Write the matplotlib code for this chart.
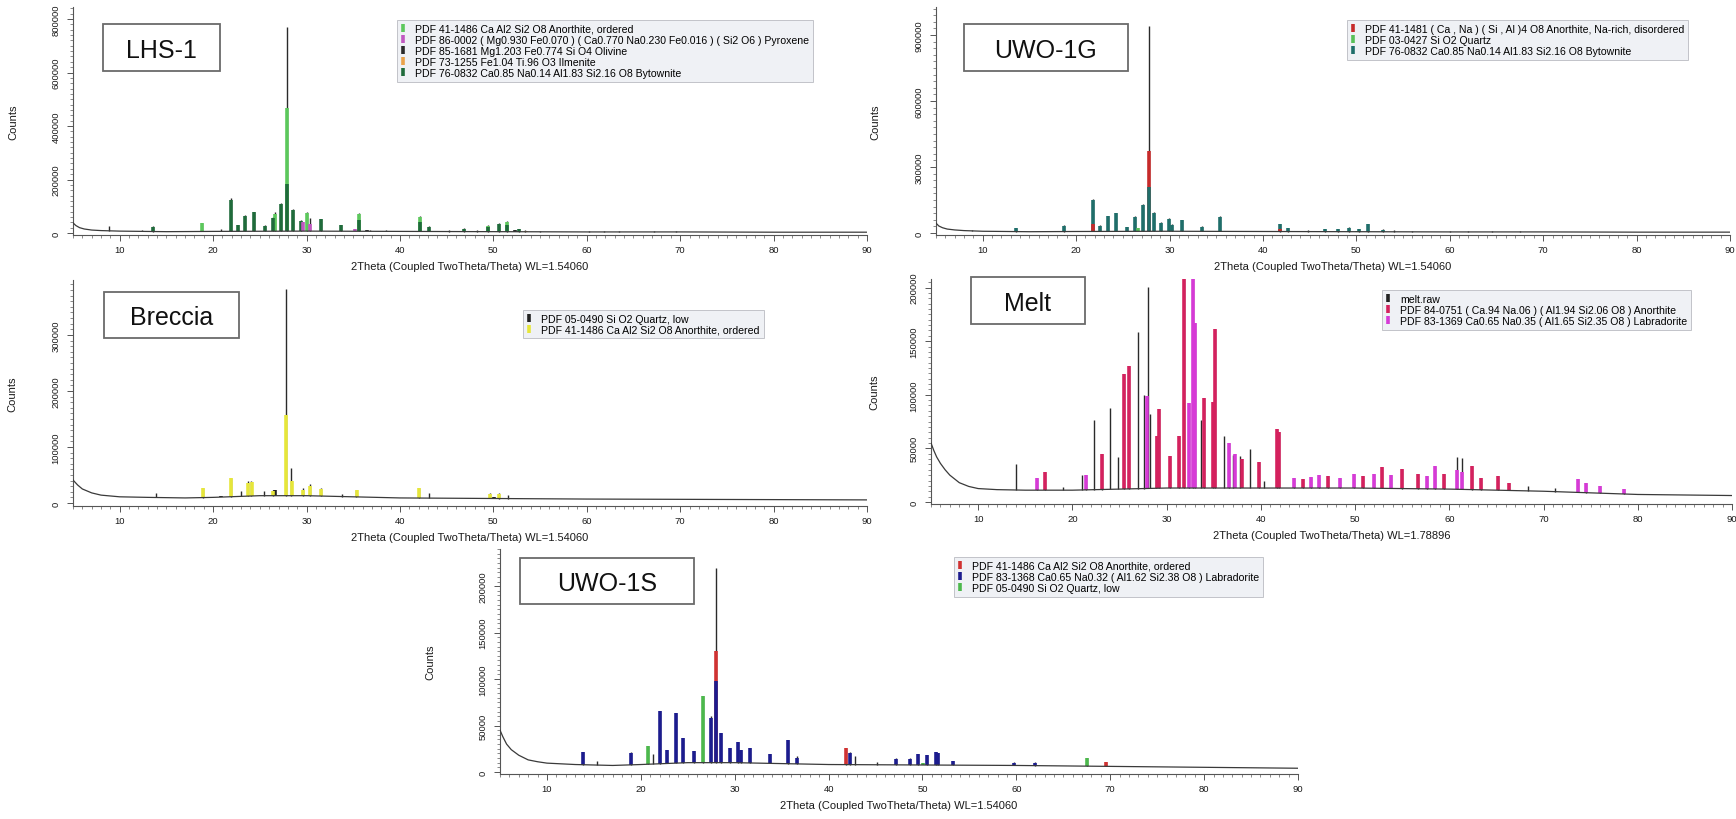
import numpy as np
import matplotlib
matplotlib.use("Agg")
import matplotlib.pyplot as plt
from matplotlib.ticker import MultipleLocator, FuncFormatter
from matplotlib.lines import Line2D
from matplotlib.patches import Rectangle

plt.rcParams['font.family'] = ['Liberation Sans', 'DejaVu Sans']

W, H = 1736, 820

# ---------------- LHS-1 ----------------
lhs_bg_x = [5, 5.3, 5.7, 6.2, 7, 8, 10, 15, 20, 30, 40, 50, 60, 70, 80, 90]
lhs_bg_y = [38000, 28000, 20000, 15000, 11000, 9000, 7000, 5000, 6000, 7000, 6000, 5000, 4000, 4000, 3000, 3000]
lhs_obs_x = [8.9, 12.4, 13.6, 18.8, 20.8, 21.9, 22.7, 23.4, 24.4, 25.6, 26.4, 26.6, 27.3, 27.9, 28.5,
             29.4, 30.1, 30.4, 31.5, 33.7, 35.6, 36.8, 38.5, 42.1, 43.1, 45.3, 46.9, 48.2, 49.4, 50.6,
             51.5, 52.7, 53.4, 55.0, 60.2, 61.8, 63.5, 67.2, 69.5]
lhs_obs_y = [25000, 10000, 25000, 39000, 16000, 129000, 31000, 66000, 79000, 29000, 60000, 79000, 114000, 772000, 88000,
             48000, 79000, 55000, 54000, 31000, 73000, 12000, 10000, 63000, 25000, 12000, 19000, 13000, 29000, 39000,
             44000, 16000, 13000, 9000, 9000, 9000, 7000, 9000, 6000]
lhs_an_x = [18.8, 26.6, 27.9, 30.1, 35.6, 42.1, 49.4, 51.5]
lhs_an_y = [36000, 70000, 466000, 75000, 70000, 60000, 26000, 40000]
lhs_px_x = [29.6, 30.4, 35.2]
lhs_px_y = [40000, 35000, 14000]
lhs_ol_x = [32.3, 36.5, 52.3]
lhs_ol_y = [9000, 10000, 10000]
lhs_il_x = [32.6, 35.4, 53.5]
lhs_il_y = [9000, 8000, 7000]
lhs_by_x = [13.6, 21.9, 22.7, 23.4, 24.4, 25.6, 26.4, 27.3, 27.9, 28.5, 29.4, 31.5, 33.7, 35.6, 42.1, 43.1,
            46.9, 49.4, 50.6, 51.5, 52.7]
lhs_by_y = [22000, 125000, 29000, 64000, 77000, 26000, 57000, 110000, 185000, 85000, 45000, 52000, 29000, 50000,
            40000, 23000, 16000, 22000, 35000, 30000, 14000]
lhs_labels = ["PDF 41-1486 Ca Al2 Si2 O8 Anorthite, ordered",
              "PDF 86-0002 ( Mg0.930 Fe0.070 ) ( Ca0.770 Na0.230 Fe0.016 ) ( Si2 O6 ) Pyroxene",
              "PDF 85-1681 Mg1.203 Fe0.774 Si O4 Olivine",
              "PDF 73-1255 Fe1.04 Ti.96 O3 Ilmenite",
              "PDF 76-0832 Ca0.85 Na0.14 Al1.83 Si2.16 O8 Bytownite"]
lhs_colors = ["#5cc85c", "#c058c0", "#2a2a2a", "#eaa24a", "#1f6b3b"]

# ---------------- UWO-1G ----------------
g_bg_x = [5, 5.3, 5.7, 6.2, 7, 8, 10, 15, 20, 30, 40, 50, 60, 70, 80, 90]
g_bg_y = [45000, 32000, 24000, 18000, 14000, 11000, 8000, 6000, 7000, 8000, 7000, 6000, 5000, 5000, 4000, 4000]
g_obs_x = [8.9, 13.6, 18.7, 21.8, 22.6, 23.4, 24.3, 25.5, 26.3, 27.2, 27.8, 28.3, 29.1, 29.9, 30.3, 31.3,
           33.5, 35.4, 36.8, 39.5, 41.8, 42.7, 44.8, 46.6, 48.0, 49.2, 50.3, 51.2, 52.9, 54.0, 56.0, 60.0,
           62.0, 64.5, 67.5]
g_obs_y = [12000, 23000, 35000, 153000, 35000, 78000, 93000, 28000, 78000, 130000, 940000, 96000, 50000, 66000, 40000, 61000,
           31000, 78000, 10000, 10000, 43000, 23000, 12000, 18000, 18000, 28000, 20000, 43000, 16000, 13000, 9000, 9000,
           9000, 8000, 8000]
g_an_x = [21.8, 27.8, 41.8]
g_an_y = [40000, 372000, 20000]
g_qz_x = [20.8, 26.6, 50.1]
g_qz_y = [9000, 22000, 9000]
g_by_x = [13.6, 18.7, 21.8, 22.6, 23.4, 24.3, 25.5, 26.3, 27.2, 27.8, 28.3, 29.1, 29.9, 30.3, 31.3, 33.5,
          35.4, 41.8, 42.7, 46.6, 48.0, 49.2, 50.3, 51.2, 52.9]
g_by_y = [21000, 33000, 150000, 33000, 76000, 90000, 26000, 75000, 126000, 211000, 92000, 47000, 63000, 37000, 58000, 29000,
          75000, 40000, 21000, 16000, 16000, 25000, 18000, 40000, 14000]
g_labels = ["PDF 41-1481 ( Ca , Na ) ( Si , Al )4 O8 Anorthite, Na-rich, disordered",
            "PDF 03-0427 Si O2 Quartz",
            "PDF 76-0832 Ca0.85 Na0.14 Al1.83 Si2.16 O8 Bytownite"]
g_colors = ["#c62a2a", "#58c058", "#1f6e6a"]

# ---------------- Breccia ----------------
b_bg_x = [5, 5.5, 6, 7, 8, 10, 13, 17, 20, 25, 30, 35, 40, 50, 60, 70, 80, 90]
b_bg_y = [41000, 32000, 25000, 18000, 14000, 11000, 10000, 9000, 10000, 13000, 13000, 11000, 9000, 8000, 7000, 6500, 6000, 5500]
b_obs_x = [13.9, 18.9, 21.9, 23.0, 23.7, 24.1, 25.5, 26.4, 27.8, 28.3, 29.6, 30.4, 31.5, 33.8, 35.3,
           42.0, 43.1, 49.6, 50.6, 51.6]
b_obs_y = [17000, 26000, 44000, 22000, 39000, 40000, 22000, 24000, 382000, 62000, 26000, 33000, 27000, 16000, 24000,
           26000, 17000, 17000, 17000, 14000]
b_qz_x = [20.8, 26.6, 50.1]
b_qz_y = [13000, 24000, 11000]
b_an_x = [18.9, 21.9, 23.7, 24.2, 26.4, 27.8, 28.4, 29.6, 30.4, 31.5, 35.4, 42.0, 49.6, 50.6]
b_an_y = [26000, 44000, 36000, 38000, 22000, 157000, 40000, 24000, 31000, 25000, 24000, 26000, 16000, 16000]
b_labels = ["PDF 05-0490 Si O2 Quartz, low",
            "PDF 41-1486 Ca Al2 Si2 O8 Anorthite, ordered"]
b_colors = ["#222222", "#e6e63a"]

# ---------------- Melt ----------------
m_bg_x = [5, 5.3, 5.6, 6, 6.5, 7, 8, 9, 10, 12, 15, 20, 25, 30, 40, 50, 60, 70, 80, 90]
m_bg_y = [55000, 48000, 42000, 36000, 30000, 25000, 18000, 14500, 12500, 11500, 11000, 11000, 12000, 13000, 13000,
          13000, 12000, 10000, 7000, 6000]
m_obs_x = [14.0, 16.2, 17.1, 19.0, 21.0, 21.4, 22.3, 23.1, 24.0, 24.8, 25.5, 26.0, 27.0, 27.6, 28.0, 28.2,
           28.9, 29.2, 30.4, 31.3, 31.8, 32.4, 32.8, 33.0, 33.6, 34.0, 34.9, 35.1, 36.1, 36.6, 37.0, 37.8,
           38.9, 39.8, 40.3, 41.7, 41.9, 43.5, 44.5, 45.3, 46.2, 47.1, 48.4, 49.9, 50.8, 52.0, 52.9, 53.8,
           55.0, 56.7, 57.6, 58.5, 59.4, 60.8, 61.3, 62.4, 63.4, 65.2, 66.3, 68.4, 71.2, 73.7, 74.5, 76.0, 78.5]
m_obs_y = [35000, 22000, 28000, 14000, 25000, 25000, 76000, 45000, 88000, 42000, 119000, 127000, 159000, 100000, 201000, 82000,
           62000, 87000, 43000, 62000, 215000, 92000, 215000, 167000, 76000, 97000, 93000, 161000, 62000, 55000, 44000, 43000,
           49000, 37000, 20000, 68000, 65000, 22000, 21000, 23000, 25000, 24000, 22000, 26000, 24000, 26000, 33000, 25000,
           31000, 26000, 24000, 34000, 26000, 42000, 41000, 34000, 22000, 24000, 18000, 15000, 13000, 21000, 18000, 15000, 12000]
m_an_x = [17.1, 23.1, 25.5, 26.0, 29.0, 29.2, 30.4, 31.3, 31.8, 34.0, 34.9, 35.1, 38.0, 39.8, 41.7, 41.9,
          44.5, 47.1, 50.8, 52.9, 55.0, 56.7, 59.4, 62.4, 63.4, 65.2, 66.3]
m_an_y = [28000, 45000, 119000, 127000, 62000, 87000, 43000, 62000, 215000, 97000, 93000, 161000, 40000, 37000, 68000, 65000,
          21000, 24000, 24000, 33000, 31000, 26000, 26000, 34000, 22000, 24000, 18000]
m_lb_x = [16.2, 21.4, 27.9, 32.4, 32.8, 33.0, 36.6, 37.3, 43.5, 45.3, 46.2, 48.4, 49.9, 52.0, 53.8, 57.6,
          58.5, 60.8, 61.3, 73.7, 74.5, 76.0, 78.5]
m_lb_y = [22000, 25000, 99000, 92000, 215000, 167000, 55000, 45000, 22000, 23000, 25000, 22000, 26000, 26000, 25000, 24000,
          34000, 30000, 28000, 21000, 18000, 15000, 12000]
m_labels = ["melt.raw",
            "PDF 84-0751 ( Ca.94 Na.06 ) ( Al1.94 Si2.06 O8 ) Anorthite",
            "PDF 83-1369 Ca0.65 Na0.35 ( Al1.65 Si2.35 O8 ) Labradorite"]
m_colors = ["#222222", "#d4215e", "#d63ad6"]

# ---------------- UWO-1S ----------------
s_bg_x = [5, 5.3, 5.7, 6.2, 7, 8, 9, 10, 13, 17, 20, 25, 30, 35, 40, 50, 60, 70, 80, 90]
s_bg_y = [45000, 38000, 30000, 24000, 18000, 13000, 11000, 9500, 8000, 7000, 8000, 10000, 10000, 9000, 8000, 7500,
          7000, 6000, 5000, 4000]
s_obs_x = [13.8, 15.3, 19.0, 20.8, 21.3, 22.06, 22.8, 23.7, 24.5, 25.7, 26.6, 27.5, 28.06, 28.5, 29.5, 30.3,
           30.7, 31.65, 33.8, 35.7, 36.6, 41.9, 42.3, 42.8, 45.2, 47.2, 48.7, 49.5, 50.5, 51.4, 51.7, 53.3,
           59.7, 62.0, 67.5, 69.6]
s_obs_y = [21000, 12000, 21000, 28000, 19000, 66000, 24000, 64000, 37000, 23000, 82000, 60000, 220000, 42000, 26000, 32000,
           24000, 26000, 19000, 34000, 17000, 26000, 21000, 17000, 11000, 15000, 15000, 19000, 18000, 21000, 20000, 12000,
           11000, 11000, 15000, 11000]
s_an_x = [28.06, 41.9, 69.6]
s_an_y = [130000, 26000, 11000]
s_lb_x = [13.8, 19.0, 22.06, 22.8, 23.7, 24.5, 25.7, 27.5, 28.06, 28.5, 29.5, 30.3, 30.7, 31.65, 33.8, 35.7,
          36.6, 42.3, 47.2, 48.7, 49.5, 50.5, 51.4, 51.7, 53.3, 59.7, 62.0]
s_lb_y = [21000, 20000, 66000, 24000, 64000, 37000, 23000, 58000, 98000, 42000, 26000, 32000, 24000, 26000, 19000, 34000,
          15000, 20000, 14000, 14000, 19000, 18000, 21000, 20000, 12000, 10000, 10000]
s_qz_x = [20.8, 26.6, 50.1, 67.5]
s_qz_y = [28000, 82000, 10000, 15000]
s_labels = ["PDF 41-1486 Ca Al2 Si2 O8 Anorthite, ordered",
            "PDF 83-1368 Ca0.65 Na0.32 ( Al1.62 Si2.38 O8 ) Labradorite",
            "PDF 05-0490 Si O2 Quartz, low"]
s_colors = ["#d03232", "#1c1c8e", "#4cb84c"]


fig = plt.figure(figsize=(W / 100, H / 100), dpi=100)


def px_axes(x0, y_top, x1, y_bot):
    return fig.add_axes([x0 / W, 1 - y_bot / H, (x1 - x0) / W, (y_bot - y_top) / H])


def draw_panel(ax, bg_x, bg_y, obs_x, obs_y, phases, ylim, major, wl, name, box,
               labels, colors, leg_xy, ylab_x):
    ax.plot(bg_x, bg_y, color="#3a3a3a", lw=0.9, zorder=3)
    ax.vlines(obs_x, np.interp(obs_x, bg_x, bg_y), obs_y, colors="#2a2a2a", lw=1.0, zorder=2)

    # reference phase sticks, tallest first so shorter ones sit on top
    sx, sy, sc = [], [], []
    for (px, py), c in phases:
        sx += list(px)
        sy += list(py)
        sc += [c] * len(px)
    order = np.argsort(sy)[::-1]
    sx = np.array(sx)[order]
    sy = np.array(sy)[order]
    sc = [sc[i] for i in order]
    ax.vlines(sx, np.interp(sx, bg_x, bg_y), sy, colors=sc, lw=2.6, zorder=2.5)

    ax.set_xlim(5, 90)
    ax.set_ylim(*ylim)
    for s in ["top", "right"]:
        ax.spines[s].set_visible(False)
    for s in ["left", "bottom"]:
        ax.spines[s].set_color("#555555")
        ax.spines[s].set_linewidth(0.8)
    ax.xaxis.set_major_locator(MultipleLocator(10))
    ax.xaxis.set_minor_locator(MultipleLocator(1))
    ax.yaxis.set_major_locator(MultipleLocator(major))
    ax.yaxis.set_minor_locator(MultipleLocator(major / 10))
    ax.xaxis.set_major_formatter(FuncFormatter(lambda v, p: "" if v < 9 else "%d" % v))
    ax.yaxis.set_major_formatter(FuncFormatter(lambda v, p: "%d" % v))
    ax.tick_params(axis="both", which="major", length=4, width=0.7, color="#555555",
                   labelsize=6.8, labelcolor="#1a1a1a")
    ax.tick_params(axis="x", which="major", pad=3)
    ax.tick_params(axis="y", which="major", pad=5)
    ax.tick_params(axis="both", which="minor", length=2, width=0.6, color="#777777")
    for t in ax.get_yticklabels():
        t.set_rotation(90)
        t.set_va("center")
    ax.set_xlabel("2Theta (Coupled TwoTheta/Theta) WL=" + wl, fontsize=8, labelpad=5,
                  color="#1a1a1a")
    ax.set_ylabel("Counts", fontsize=8, color="#1a1a1a")
    ax.yaxis.set_label_coords(ylab_x, 0.5)

    x0, y0, x1, y1 = box
    fig.patches.append(Rectangle((x0 / W, 1 - y1 / H), (x1 - x0) / W, (y1 - y0) / H,
                                 transform=fig.transFigure, fc="white", ec="#6a6a6a", lw=1.3))
    fig.text((x0 + x1) / 2 / W, 1 - (y0 + y1) / 2 / H, name, fontsize=18, ha="center",
             va="center_baseline", color="#111111")

    handles = [Line2D([], [], marker="|", ls="None", ms=6, mew=2.6, color=c) for c in colors]
    leg = fig.legend(handles, labels, loc="upper left",
                     bbox_to_anchor=(leg_xy[0] / W, 1 - leg_xy[1] / H),
                     fontsize=7.6, frameon=True, fancybox=False, handlelength=0.5,
                     handletextpad=0.9, labelspacing=0.1, borderpad=0.35,
                     borderaxespad=0)
    leg.get_frame().set_facecolor("#eceef3")
    leg.get_frame().set_edgecolor("#b4b6bc")
    leg.get_frame().set_linewidth(0.7)


ax1 = px_axes(73, 8, 867, 236)
draw_panel(ax1, lhs_bg_x, lhs_bg_y, lhs_obs_x, lhs_obs_y,
           [((lhs_an_x, lhs_an_y), lhs_colors[0]), ((lhs_px_x, lhs_px_y), lhs_colors[1]),
            ((lhs_ol_x, lhs_ol_y), lhs_colors[2]), ((lhs_il_x, lhs_il_y), lhs_colors[3]),
            ((lhs_by_x, lhs_by_y), lhs_colors[4])],
           (-7500, 845000), 200000, "1.54060", "LHS-1", (103, 25, 220, 72),
           lhs_labels, lhs_colors, (397, 21), -0.069)

ax2 = px_axes(936, 8, 1730, 236)
draw_panel(ax2, g_bg_x, g_bg_y, g_obs_x, g_obs_y,
           [((g_an_x, g_an_y), g_colors[0]), ((g_qz_x, g_qz_y), g_colors[1]),
            ((g_by_x, g_by_y), g_colors[2])],
           (-9000, 1027000), 300000, "1.54060", "UWO-1G", (964, 25, 1128, 72),
           g_labels, g_colors, (1347, 21), -0.07)

ax3 = px_axes(73, 281, 867, 507)
draw_panel(ax3, b_bg_x, b_bg_y, b_obs_x, b_obs_y,
           [((b_qz_x, b_qz_y), b_colors[0]), ((b_an_x, b_an_y), b_colors[1])],
           (-5400, 398000), 100000, "1.54060", "Breccia", (104, 293, 239, 339),
           b_labels, b_colors, (523, 311), -0.07)

ax4 = px_axes(931, 280, 1732, 505)
draw_panel(ax4, m_bg_x, m_bg_y, m_obs_x, m_obs_y,
           [((m_an_x, m_an_y), m_colors[1]), ((m_lb_x, m_lb_y), m_colors[2])],
           (-1900, 208000), 50000, "1.78896", "Melt", (971, 278, 1085, 325),
           m_labels, m_colors, (1382, 291), -0.064)

ax5 = px_axes(500, 550, 1298, 775)
draw_panel(ax5, s_bg_x, s_bg_y, s_obs_x, s_obs_y,
           [((s_an_x, s_an_y), s_colors[0]), ((s_lb_x, s_lb_y), s_colors[1]),
            ((s_qz_x, s_qz_y), s_colors[2])],
           (-2200, 240000), 50000, "1.54060", "UWO-1S", (520, 559, 694, 605),
           s_labels, s_colors, (954, 558), -0.081)

fig.savefig("out.png", dpi=100)
